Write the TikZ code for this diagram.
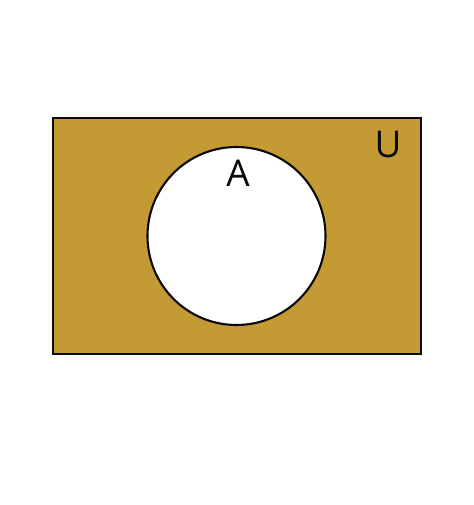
\documentclass[tikz,border=0pt]{standalone}
\usepackage{fontspec}
\setmainfont{Open Sans}
\usepackage{xcolor}
\usepackage{tikz}
\definecolor{gold}{HTML}{C39A33}
\definecolor{ink}{HTML}{0A0A0A}
\tikzset{
  universe/.style={fill=gold, draw=ink, line width=1.2pt},
  setA/.style={circle, fill=white, draw=ink, line width=1.2pt, minimum size=178*0.02cm, inner sep=0pt},
  lab/.style={text=ink, font=\fontsize{21}{24}\selectfont},
}
\begin{document}
\begin{tikzpicture}[x=0.02cm, y=0.02cm]
  \useasboundingbox[fill=white] (0,0) rectangle (474,505);
  \coordinate (SW) at (53,151);
  \coordinate (NE) at (421,387);
  \draw[universe] (SW) rectangle (NE);
  % the set A sits in the middle of U
  \node[setA] (A) at (236.5,269) {};
  \node[lab] (labA) at (238,332) {A};
  \node[lab] (labU) at (388,360) {U};
\end{tikzpicture}
\end{document}
